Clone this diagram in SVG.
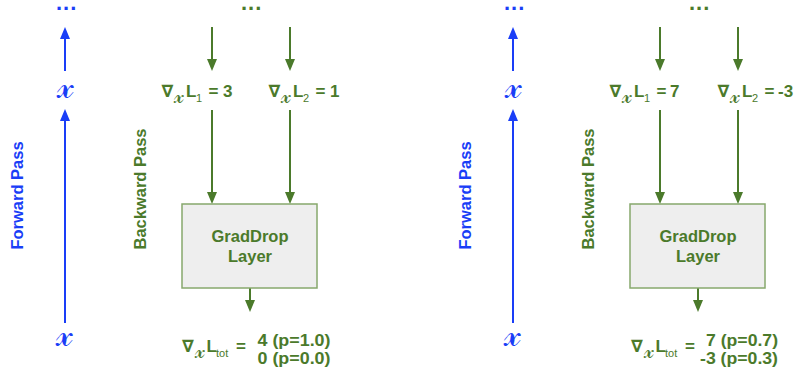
<svg xmlns="http://www.w3.org/2000/svg" width="795" height="372" viewBox="0 0 795 372">
<style>
.b{fill:#1a3ef7}
.g{fill:#4b7a2b}
text{font-family:"Liberation Sans","DejaVu Sans",sans-serif;font-weight:bold}
.lbl{font-size:17px}
.val{font-size:16px}
.pass{font-size:16.5px}
.sx{font-family:"DejaVu Serif","DejaVu Sans","Noto Sans",serif;font-style:normal;font-weight:normal;font-size:21px}
.bx{font-family:"DejaVu Serif","DejaVu Sans","Noto Sans",serif;font-style:normal;font-weight:normal;font-size:36px}
.sub{font-size:11px;font-weight:normal}
.dots{font-size:22px;letter-spacing:1px}
.lb{stroke:#1a3ef7;stroke-width:2;fill:none}
.lg{stroke:#4b7a2b;stroke-width:2;fill:none}
.box{fill:#eeeeee;stroke:#87a86c;stroke-width:1.5}
</style>
<g id="connectors">
<path class="lb" d="M65,71 V39"/><path d="M60,39 L70,39 L65,27 Z" fill="#1a3ef7"/>
<path class="lb" d="M65,323 V121"/><path d="M60,121 L70,121 L65,109 Z" fill="#1a3ef7"/>
<path class="lg" d="M212,27 V59"/><path d="M207,59 L217,59 L212,71 Z" fill="#4b7a2b"/>
<path class="lg" d="M290,27 V59"/><path d="M285,59 L295,59 L290,71 Z" fill="#4b7a2b"/>
<path class="lg" d="M212,110 V192"/><path d="M207,192 L217,192 L212,204 Z" fill="#4b7a2b"/>
<path class="lg" d="M290,110 V192"/><path d="M285,192 L295,192 L290,204 Z" fill="#4b7a2b"/>
<path class="lg" d="M250,288 V300"/><path d="M245,300 L255,300 L250,312 Z" fill="#4b7a2b"/>
<path class="lb" d="M513,71 V39"/><path d="M508,39 L518,39 L513,27 Z" fill="#1a3ef7"/>
<path class="lb" d="M513,323 V121"/><path d="M508,121 L518,121 L513,109 Z" fill="#1a3ef7"/>
<path class="lg" d="M660,27 V59"/><path d="M655,59 L665,59 L660,71 Z" fill="#4b7a2b"/>
<path class="lg" d="M738,27 V59"/><path d="M733,59 L743,59 L738,71 Z" fill="#4b7a2b"/>
<path class="lg" d="M660,110 V192"/><path d="M655,192 L665,192 L660,204 Z" fill="#4b7a2b"/>
<path class="lg" d="M738,110 V192"/><path d="M733,192 L743,192 L738,204 Z" fill="#4b7a2b"/>
<path class="lg" d="M698,288 V300"/><path d="M693,300 L703,300 L698,312 Z" fill="#4b7a2b"/>
</g>
<g id="left-panel">
<g id="l-fdots"><text class="b dots" x="56" y="10">...</text></g>
<g id="l-gdots"><text class="g dots" x="241" y="10">...</text></g>
<g id="l-xtop"><text class="b bx" x="65" y="98" text-anchor="middle">𝓍</text></g>
<g id="l-xbot"><text class="b bx" x="64" y="346" text-anchor="middle">𝓍</text></g>
<g id="l-fwd"><text class="b pass" transform="translate(22.7,195.5) rotate(-90)" text-anchor="middle">Forward Pass</text></g>
<g id="l-bwd"><text class="g pass" transform="translate(146,189) rotate(-90)" text-anchor="middle">Backward Pass</text></g>
<g id="l-g1"><text class="g lbl" y="96.5"><tspan x="161.5">∇</tspan><tspan class="sx" x="174" y="103">𝓍</tspan><tspan x="186" y="96.5">L</tspan><tspan class="sub" x="196" y="102">1</tspan><tspan x="208.5" y="96.5">=</tspan><tspan x="223">3</tspan></text></g>
<g id="l-g2"><text class="g lbl" y="96.5"><tspan x="268.5">∇</tspan><tspan class="sx" x="281" y="103">𝓍</tspan><tspan x="293" y="96.5">L</tspan><tspan class="sub" x="303" y="102">2</tspan><tspan x="315.5" y="96.5">=</tspan><tspan x="330">1</tspan></text></g>
<g id="l-box"><rect class="box" x="182" y="204" width="135" height="84"/><text class="g pass" x="250" y="242" text-anchor="middle">GradDrop</text><text class="g pass" x="250" y="262" text-anchor="middle">Layer</text></g>
<g id="l-tot"><text class="g lbl" y="352"><tspan x="182">∇</tspan><tspan class="sx" x="194.5" y="358">𝓍</tspan><tspan x="206.5" y="352">L</tspan><tspan class="sub" x="216" y="357">tot</tspan><tspan x="236" y="352">=</tspan></text>
<text class="g val" x="257.5" y="346" textLength="73" lengthAdjust="spacingAndGlyphs">4 (p=1.0)</text><text class="g val" x="257.5" y="364" textLength="73" lengthAdjust="spacingAndGlyphs">0 (p=0.0)</text></g>
</g>
<g id="right-panel">
<g id="r-fdots"><text class="b dots" x="504" y="10">...</text></g>
<g id="r-gdots"><text class="g dots" x="689" y="10">...</text></g>
<g id="r-xtop"><text class="b bx" x="513" y="98" text-anchor="middle">𝓍</text></g>
<g id="r-xbot"><text class="b bx" x="512" y="346" text-anchor="middle">𝓍</text></g>
<g id="r-fwd"><text class="b pass" transform="translate(470.7,195.5) rotate(-90)" text-anchor="middle">Forward Pass</text></g>
<g id="r-bwd"><text class="g pass" transform="translate(594,189) rotate(-90)" text-anchor="middle">Backward Pass</text></g>
<g id="r-g1"><text class="g lbl" y="96.5"><tspan x="609.5">∇</tspan><tspan class="sx" x="622" y="103">𝓍</tspan><tspan x="634" y="96.5">L</tspan><tspan class="sub" x="644" y="102">1</tspan><tspan x="656.5" y="96.5">=</tspan><tspan x="670">7</tspan></text></g>
<g id="r-g2"><text class="g lbl" y="96.5"><tspan x="717.5">∇</tspan><tspan class="sx" x="730" y="103">𝓍</tspan><tspan x="742" y="96.5">L</tspan><tspan class="sub" x="752" y="102">2</tspan><tspan x="764.5" y="96.5">=</tspan><tspan x="778">-3</tspan></text></g>
<g id="r-box"><rect class="box" x="630" y="204" width="135" height="84"/><text class="g pass" x="698" y="242" text-anchor="middle">GradDrop</text><text class="g pass" x="698" y="262" text-anchor="middle">Layer</text></g>
<g id="r-tot"><text class="g lbl" y="352"><tspan x="631">∇</tspan><tspan class="sx" x="643.5" y="358">𝓍</tspan><tspan x="655.5" y="352">L</tspan><tspan class="sub" x="665" y="357">tot</tspan><tspan x="685" y="352">=</tspan></text>
<text class="g val" x="706" y="346" textLength="72" lengthAdjust="spacingAndGlyphs">7 (p=0.7)</text><text class="g val" x="700" y="364" textLength="78" lengthAdjust="spacingAndGlyphs">-3 (p=0.3)</text></g>
</g>
</svg>
